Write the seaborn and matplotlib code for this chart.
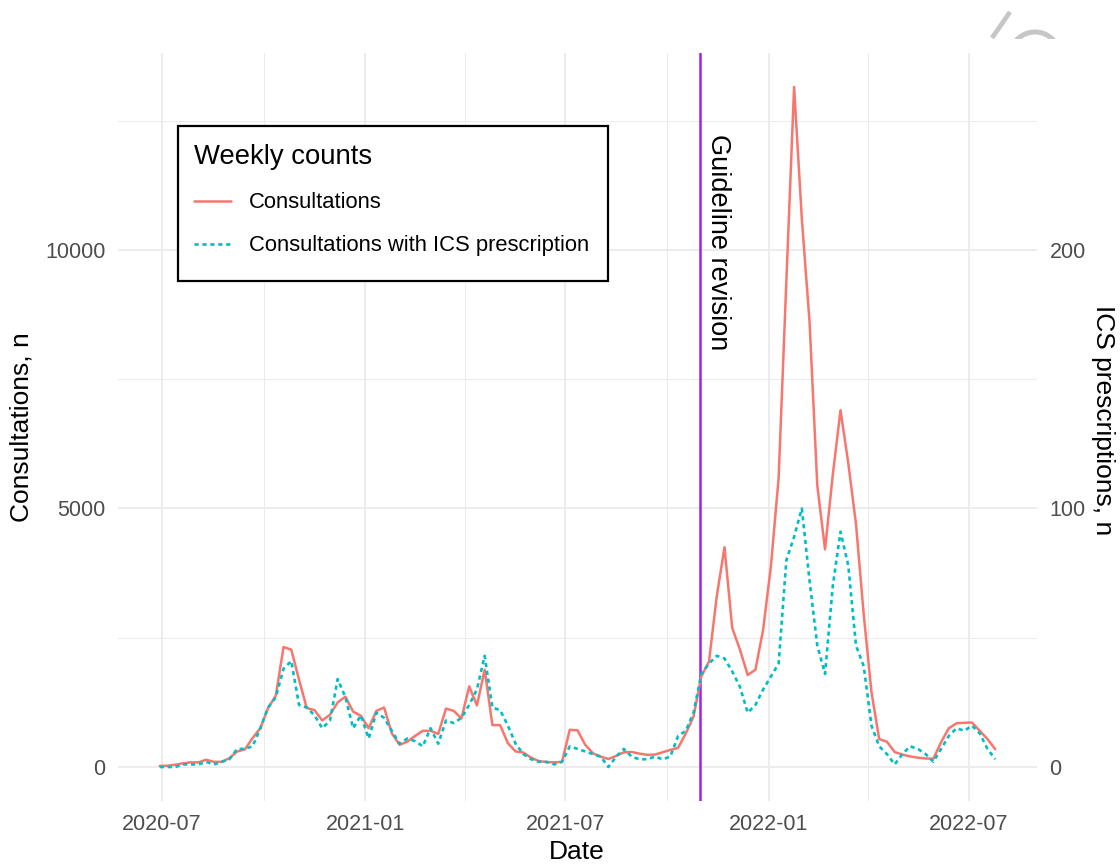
import numpy as np
import pandas as pd
import matplotlib
matplotlib.use("Agg")
import matplotlib.pyplot as plt
import matplotlib.dates as mdates
import matplotlib.transforms as mtransforms
from matplotlib.patches import Rectangle, Arc
from matplotlib.lines import Line2D
from matplotlib.ticker import FixedLocator, FixedFormatter
import seaborn as sns

# ---------------- data ----------------
start_date = "2020-06-29"          # first weekly observation (Mondays)
consultations = [
    20, 25, 45, 70, 90, 90, 140, 100, 100, 170,
    300, 340, 560, 750, 1140, 1380, 2320, 2270, 1690, 1140,
    1100, 900, 1010, 1250, 1360, 1070, 990, 750, 1085, 1150,
    650, 430, 490, 600, 700, 700, 640, 1130, 1085, 940,
    1560, 1190, 1880, 810, 810, 460, 300, 280, 180, 115,
    95, 90, 100, 720, 710, 430, 265, 200, 155, 215,
    285, 290, 260, 235, 240, 285, 330, 370, 650, 975,
    1750, 2040, 3300, 4250, 2690, 2270, 1780, 1880, 2660, 3880,
    5590, 9400, 13150, 10600, 8600, 5440, 4210, 5650, 6900, 5880,
    4700, 2950, 1450, 540, 490, 290, 240, 205, 180, 165,
    160, 480, 750, 846, 855, 860, 700, 540, 345,
]
ics_prescriptions = [
    0, 0, 0, 1, 1, 1, 2, 1, 2, 3,
    7, 7, 8, 15, 23, 27, 38, 41, 24, 23,
    20, 15, 18, 34, 27, 15, 20, 11, 21, 19,
    14, 9, 11, 10, 8, 15, 9, 18, 17, 19,
    24, 30, 43, 23, 22, 16, 9, 5, 3, 2,
    2, 1, 2, 8, 7, 6, 5, 4, 0, 4,
    7, 4, 3, 3, 4, 3, 4, 12, 14, 21,
    36, 40, 43, 42, 37, 31, 21, 24, 30, 35,
    40, 80, 89, 100, 72, 47, 36, 70, 91, 78,
    47, 39, 16, 8, 5, 1, 5, 8, 7, 5,
    2, 7, 12, 15, 14, 16, 13, 7, 3,
]
series_labels = ["Consultations", "Consultations with ICS prescription"]
legend_title = "Weekly counts"
guideline_date = "2021-10-31"
guideline_label = "Guideline revision"
sec_axis_factor = 50              # 1 ICS prescription = 50 consultations on the shared scale
x_major_ticks = ["2020-07-01", "2021-01-01", "2021-07-01", "2022-01-01", "2022-07-01"]
x_minor_ticks = ["2020-10-01", "2021-04-01", "2021-10-01", "2022-04-01"]
y_left_ticks = [0, 5000, 10000]
y_left_minor = [2500, 7500, 12500]
y_right_ticks = [0, 100, 200]

# ---------------- frame ----------------
dates = pd.date_range(start_date, periods=len(consultations), freq="7D")
df = pd.DataFrame({"date": dates,
                   "consultations": consultations,
                   "ics": ics_prescriptions})
df["ics_scaled"] = df["ics"] * sec_axis_factor

sns.set_theme(style="white")
plt.rcParams["font.family"] = ["Liberation Sans", "DejaVu Sans"]

W, H = 1120, 867
fig = plt.figure(figsize=(W / 100, H / 100), dpi=100)
px_l, px_r, px_t, px_b = 118, 1037, 53, 801
ax = fig.add_axes([px_l / W, 1 - px_b / H, (px_r - px_l) / W, (px_b - px_t) / H])

red = "#F8766D"
teal = "#00BFC4"
purple = "#A020F0"
grid_col = "#EBEBEB"
tick_col = "#4D4D4D"

ax.axvline(pd.Timestamp(guideline_date), color=purple, lw=1.8, zorder=1.5)

sns.lineplot(data=df, x="date", y="consultations", ax=ax, color=red,
             lw=1.8, label=series_labels[0], zorder=2)
sns.lineplot(data=df, x="date", y="ics_scaled", ax=ax, color=teal,
             lw=1.9, linestyle=(0, (1.6, 1.4)), label=series_labels[1], zorder=2.1)

# limits (5% expansion like ggplot)
x0 = mdates.date2num(dates[0]); x1 = mdates.date2num(dates[-1])
span = x1 - x0
ax.set_xlim(x0 - 0.05 * span, x1 + 0.05 * span)
ymax = max(df["consultations"].max(), df["ics_scaled"].max())
ax.set_ylim(-0.05 * ymax, 1.05 * ymax)

# ticks
ax.xaxis.set_major_locator(FixedLocator(mdates.date2num(pd.to_datetime(x_major_ticks))))
ax.xaxis.set_major_formatter(FixedFormatter([pd.Timestamp(d).strftime("%Y-%m") for d in x_major_ticks]))
ax.xaxis.set_minor_locator(FixedLocator(mdates.date2num(pd.to_datetime(x_minor_ticks))))
ax.yaxis.set_major_locator(FixedLocator(y_left_ticks))
ax.yaxis.set_major_formatter(FixedFormatter([str(v) for v in y_left_ticks]))
ax.yaxis.set_minor_locator(FixedLocator(y_left_minor))

ax.grid(which="major", color=grid_col, lw=1.3)
ax.grid(which="minor", color=grid_col, lw=0.7)
ax.set_axisbelow(True)
for s in ax.spines.values():
    s.set_visible(False)
ax.tick_params(which="both", length=0)
ax.tick_params(axis="both", labelsize=15.5, labelcolor=tick_col)
ax.tick_params(axis="y", pad=9)
ax.tick_params(axis="x", pad=9)

sec = ax.secondary_yaxis("right", functions=(lambda v: v / sec_axis_factor,
                                             lambda v: v * sec_axis_factor))
sec.yaxis.set_major_locator(FixedLocator(y_right_ticks))
sec.yaxis.set_major_formatter(FixedFormatter([str(v) for v in y_right_ticks]))
sec.tick_params(length=0, labelsize=15.5, labelcolor=tick_col, pad=9)
for s in sec.spines.values():
    s.set_visible(False)

# axis titles
ax.set_xlabel("Date", fontsize=19, color="black", va="center")
ax.xaxis.set_label_coords(577 / W, 1 - 852 / H, transform=fig.transFigure)
ax.set_ylabel("Consultations, n", fontsize=19, color="black", va="center", ha="center")
ax.yaxis.set_label_coords(22 / W, 1 - 427 / H, transform=fig.transFigure)
fig.text(1103 / W, 1 - 420 / H, "ICS prescriptions, n", fontsize=19, color="black",
         rotation=-90, va="center", ha="center")

# guideline annotation
trans = mtransforms.blended_transform_factory(ax.transData, ax.transAxes) + \
    mtransforms.ScaledTranslation(5 / 100, 0, fig.dpi_scale_trans)
ax.text(mdates.date2num(pd.Timestamp(guideline_date)), (px_b - 134) / (px_b - px_t),
        guideline_label, rotation=-90, ha="left", va="top", fontsize=19.5,
        color="black", transform=trans)

# legend: frame drawn as a box, content from the legend
box = Rectangle((178 / W, 1 - 281 / H), (608 - 178) / W, (281 - 126) / H,
                transform=fig.transFigure, facecolor="white", edgecolor="black",
                lw=1.6, zorder=4, clip_on=False)
ax.add_artist(box)
leg = ax.legend(title=legend_title, loc="upper left",
                bbox_to_anchor=(178 / W, 1 - 128 / H), bbox_transform=fig.transFigure,
                frameon=False, fontsize=15.8, title_fontsize=19.8, borderpad=0.75,
                handlelength=1.65, handletextpad=0.85, labelspacing=1.0,
                borderaxespad=0, alignment="left")
leg.set_zorder(5)
for t in leg.get_texts():
    t.set_color("black")
leg.get_title().set_color("black")

# faint cropped mark at the top right corner of the page
mark_col = "#C6C6C6"
clip = Rectangle((9.6, (H - 39) / 100), 1.6, 0.5, transform=fig.dpi_scale_trans,
                 facecolor="none", edgecolor="none")
fig.add_artist(clip)
stroke = Line2D([9.92, 10.10], [(H - 38) / 100, (H - 12) / 100],
                transform=fig.dpi_scale_trans, color=mark_col, lw=3.4,
                solid_capstyle="butt")
stroke.set_clip_path(clip)
fig.add_artist(stroke)
arc = Arc((10.35, (H - 57) / 100), 0.50, 0.50, theta1=0, theta2=180,
          transform=fig.dpi_scale_trans, color=mark_col, lw=3.6)
arc.set_clip_path(clip)
fig.add_artist(arc)

fig.savefig("out.png", dpi=100, facecolor="white")
